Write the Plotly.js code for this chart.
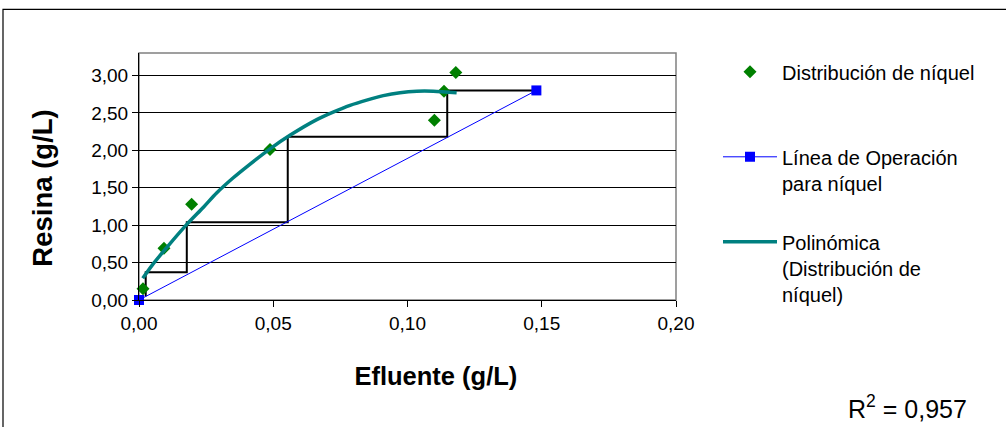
<!DOCTYPE html>
<html>
<head>
<meta charset="utf-8">
<script src="https://cdn.plot.ly/plotly-3.0.1.min.js"></script>
<style>html,body{margin:0;padding:0;background:#fff;}#chart{width:1006px;height:427px;}</style>
</head>
<body>
<div id="chart"></div>
<script>
// Data
const distX = [0.0015, 0.0093, 0.0196, 0.0488, 0.1100, 0.1136, 0.1180];
const distY = [0.15, 0.69, 1.28, 2.01, 2.40, 2.79, 3.04];
const opX = [0.000, 0.148];
const opY = [0.00, 2.80];
const trendX = [0.0014, 0.0050, 0.0103, 0.0178, 0.0240, 0.0289, 0.0350, 0.0401, 0.0488, 0.0562, 0.0662, 0.0723, 0.0786, 0.0848, 0.0910, 0.0972, 0.1035, 0.1096, 0.1183];
const trendY = [0.29, 0.47, 0.70, 1.01, 1.24, 1.43, 1.63, 1.78, 2.02, 2.20, 2.41, 2.51, 2.60, 2.67, 2.73, 2.77, 2.79, 2.79, 2.77];
const stepX = [0.148, 0.1148, 0.1148, 0.0554, 0.0554, 0.0178, 0.0178, 0.0025, 0.0025];
const stepY = [2.80, 2.80, 2.18, 2.18, 1.04, 1.04, 0.37, 0.37, 0.05];
const xTicks = [0, 0.05, 0.10, 0.15, 0.20];
const yTicks = [0, 0.5, 1.0, 1.5, 2.0, 2.5, 3.0];
const names = ['Distribución de níquel<br>\u00a0', 'Línea de Operación<br>para níquel', 'Polinómica<br>(Distribución de<br>níquel)'];
const r2Text = 'R<sup>2</sup> = 0,957';
const xTitle = 'Efluente (g/L)';
const yTitle = 'Resina (g/L)';

const FONT = 'Liberation Sans, Arial, sans-serif';
const NB = '\u00a0';

const traces = [
  {x: stepX, y: stepY, mode: 'lines', line: {color: '#000000', width: 2}, showlegend: false, hoverinfo: 'skip'},
  {x: distX, y: distY, mode: 'markers', name: names[0], legendgroup: 'a', legendrank: 1, cliponaxis: false,
   marker: {symbol: 'diamond', size: 10, color: '#008000'}},
  {x: opX, y: opY, mode: 'lines+markers', name: names[1], legendgroup: 'b', legendrank: 2, cliponaxis: false,
   line: {color: '#0000FF', width: 1}, marker: {symbol: 'square', size: 10, color: '#0000FF'}},
  {x: trendX, y: trendY, mode: 'lines', name: names[2], legendgroup: 'c', legendrank: 3,
   line: {color: '#008080', width: 3.5, shape: 'spline', smoothing: 0.8}}
];

const L = 139, R = 676, T = 52.7, B = 300;
const px = v => (v - L) / (R - L);
const py = v => (B - v) / (B - T);

const layout = {
  width: 1006, height: 427,
  margin: {l: L, r: 1006 - R, t: T, b: 427 - B, pad: 0},
  paper_bgcolor: '#ffffff', plot_bgcolor: '#ffffff',
  separators: ',.',
  font: {family: FONT, size: 19, color: '#000000'},
  showlegend: true,
  legend: {x: px(718), y: py(52), xanchor: 'left', yanchor: 'top', valign: 'top',
           font: {family: FONT, size: 20, color: '#000000'}, tracegroupgap: 30,
           itemwidth: 54, maxheight: 400, bgcolor: 'rgba(0,0,0,0)'},
  xaxis: {range: [0, 0.2], tickvals: xTicks, tickformat: '.2f', showgrid: false, zeroline: false,
          showline: true, linecolor: '#000000', linewidth: 1, ticks: 'outside', ticklen: 6,
          tickcolor: '#000000', tickfont: {family: FONT, size: 19}, fixedrange: true,
          title: {text: '<b>' + NB.repeat(8) + xTitle + '</b>', font: {family: FONT, size: 25.5}, standoff: 34}},
  yaxis: {range: [0, 3.3], tickvals: yTicks, tickformat: '.2f', showgrid: true, gridcolor: '#000000',
          gridwidth: 1, zeroline: false, showline: true, linecolor: '#000000', linewidth: 1,
          ticks: 'outside', ticklen: 6, tickcolor: '#000000', tickfont: {family: FONT, size: 19}, fixedrange: true,
          title: {text: '<b>' + yTitle + NB.repeat(3) + '</b>', font: {family: FONT, size: 27.5}, standoff: 30}},
  shapes: [
    {type: 'rect', xref: 'paper', yref: 'paper', x0: 0, x1: 1, y0: 0, y1: 1,
     line: {color: '#808080', width: 1.5}, layer: 'below'},
    {type: 'rect', xref: 'paper', yref: 'paper', x0: px(3), x1: px(1012), y0: py(432), y1: py(9),
     line: {color: '#000000', width: 1.2}, layer: 'below'}
  ],
  annotations: [
    {text: r2Text, xref: 'paper', yref: 'paper', x: px(907), y: py(407),
     xanchor: 'center', yanchor: 'middle', showarrow: false, font: {family: FONT, size: 25}}
  ]
};

Plotly.newPlot('chart', traces, layout, {displayModeBar: false, staticPlot: true});
</script>
</body>
</html>
